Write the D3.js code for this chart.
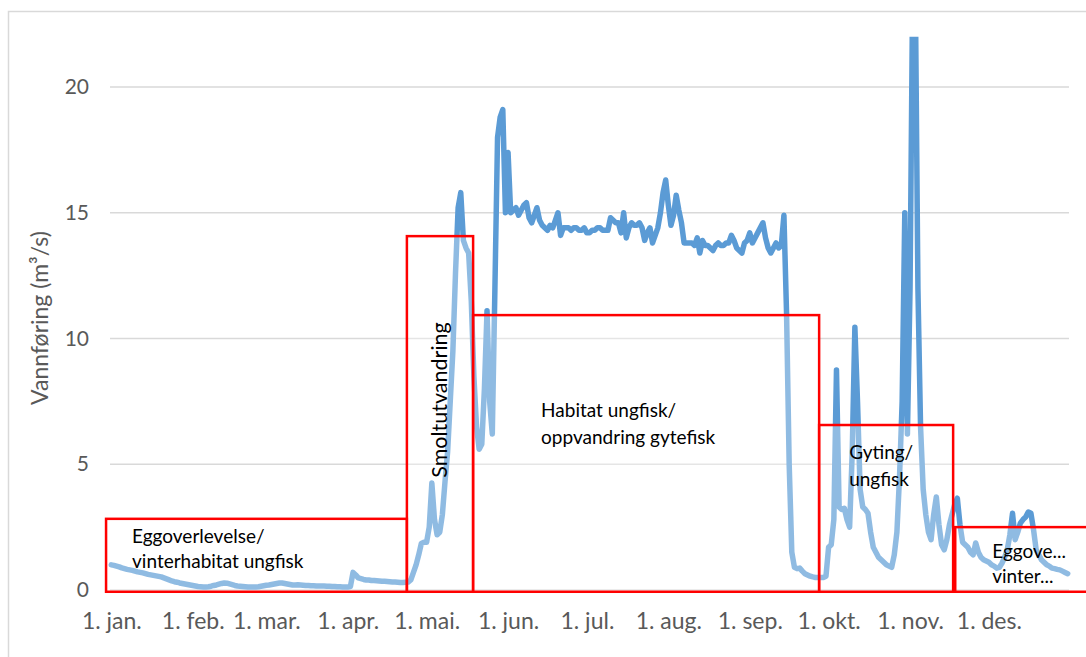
<!DOCTYPE html>
<html>
<head>
<meta charset="utf-8">
<script src="https://cdn.jsdelivr.net/npm/d3@7"></script>
<style>
  body { margin: 0; background: #fff; }
  text { font-family: Lato, "Open Sans", sans-serif; }
</style>
</head>
<body>
<div id="chart"></div>
<script>
// daily discharge (m3/s), one array per month
var jan = [1.0, 0.98, 0.95, 0.92, 0.88, 0.85, 0.82, 0.8, 0.78, 0.75, 0.72, 0.7, 0.68, 0.65, 0.62, 0.6, 0.58, 0.56, 0.54, 0.52, 0.48, 0.44, 0.4, 0.36, 0.33, 0.31, 0.28, 0.26, 0.24, 0.22, 0.2];
var feb = [0.18, 0.16, 0.14, 0.13, 0.12, 0.12, 0.13, 0.15, 0.18, 0.2, 0.23, 0.26, 0.28, 0.27, 0.24, 0.21, 0.18, 0.16, 0.15, 0.14, 0.13, 0.12, 0.12, 0.12, 0.12, 0.13, 0.15, 0.17];
var mar = [0.19, 0.2, 0.22, 0.24, 0.26, 0.28, 0.28, 0.26, 0.24, 0.22, 0.2, 0.2, 0.21, 0.2, 0.19, 0.18, 0.18, 0.17, 0.17, 0.16, 0.16, 0.16, 0.16, 0.15, 0.15, 0.14, 0.14, 0.13, 0.13, 0.12, 0.12];
var apr = [0.12, 0.14, 0.7, 0.6, 0.48, 0.45, 0.42, 0.4, 0.4, 0.38, 0.38, 0.37, 0.36, 0.35, 0.35, 0.34, 0.33, 0.32, 0.32, 0.31, 0.3, 0.3, 0.31, 0.32, 0.4, 0.7, 1.0, 1.4, 1.85, 1.9];
var mai = [1.9, 2.5, 4.25, 2.8, 2.2, 2.3, 3.0, 4.3, 5.5, 7.5, 9.5, 12.6, 15.2, 15.8, 13.9, 13.6, 13.4, 11.5, 8.5, 6.5, 5.6, 5.8, 8.0, 11.1, 7.5, 6.2, 12.0, 18.0, 18.8, 19.1, 15.0];
var jun = [17.4, 15.0, 15.1, 15.2, 14.9, 15.1, 15.3, 15.4, 14.8, 14.6, 14.9, 15.2, 14.7, 14.5, 14.4, 14.3, 14.5, 14.4, 14.7, 15.0, 14.1, 14.4, 14.4, 14.4, 14.3, 14.4, 14.4, 14.3, 14.3, 14.4];
var jul = [14.2, 14.2, 14.3, 14.3, 14.4, 14.4, 14.3, 14.3, 14.3, 14.8, 14.7, 14.6, 14.6, 14.2, 15.0, 14.0, 14.4, 14.6, 14.5, 14.5, 14.6, 14.4, 13.9, 14.2, 14.4, 13.8, 14.1, 14.4, 15.0, 15.8, 16.3];
var aug = [15.3, 14.5, 14.9, 15.7, 15.1, 14.6, 13.8, 13.8, 13.8, 13.8, 13.7, 14.0, 13.4, 13.9, 13.7, 13.7, 13.6, 13.5, 13.7, 13.8, 13.7, 13.7, 13.8, 13.8, 14.1, 13.9, 13.6, 13.5, 13.4, 13.8, 13.9];
var sep = [14.2, 13.8, 14.0, 14.2, 14.4, 14.6, 14.0, 13.6, 13.4, 13.6, 13.8, 13.6, 13.7, 14.9, 11.0, 5.0, 1.5, 0.9, 0.85, 0.87, 0.75, 0.65, 0.6, 0.55, 0.52, 0.5, 0.5, 0.5, 0.5, 0.55];
var okt = [1.7, 1.8, 2.8, 8.75, 3.3, 3.2, 3.25, 2.8, 2.5, 5.5, 10.45, 7.5, 4.0, 3.3, 3.2, 3.05, 2.3, 1.7, 1.5, 1.3, 1.2, 1.1, 1.0, 0.95, 0.9, 1.4, 2.3, 4.5, 7.5, 15.0, 6.2];
var nov = [12.0, 24.0, 24.0, 12.0, 6.5, 4.0, 3.0, 2.3, 2.0, 3.0, 3.7, 2.6, 1.8, 1.6, 2.0, 2.6, 3.0, 3.4, 3.65, 2.6, 1.9, 1.8, 1.7, 1.5, 1.4, 1.87, 1.5, 1.3, 1.2, 1.15];
var des = [1.1, 1.0, 0.95, 0.87, 0.9, 1.07, 1.3, 1.6, 2.2, 3.05, 2.0, 2.3, 2.66, 2.8, 2.9, 3.1, 3.05, 2.4, 1.6, 1.4, 1.2, 1.1, 1.0, 0.95, 0.87, 0.85, 0.82, 0.8, 0.75, 0.7, 0.65];

var monthLabels = ["1. jan.", "1. feb.", "1. mar.", "1. apr.", "1. mai.", "1. jun.", "1. jul.", "1. aug.", "1. sep.", "1. okt.", "1. nov.", "1. des."];
var yTicks = [0, 5, 10, 15, 20];

// life-stage periods: [first day, last day, top value]
var periodStart = [-2, 112.5, 137.7, 269.4, 321.2];
var periodEnd = [112.5, 137.7, 269.4, 320.4, 375];
var periodTop = [2.83, 14.07, 10.93, 6.56, 2.5];
var periodText = [
  ["Eggoverlevelse/", "vinterhabitat ungfisk"],
  ["Smoltutvandring"],
  ["Habitat ungfisk/", "oppvandring gytefisk"],
  ["Gyting/", "ungfisk"],
  ["Eggove...", "vinter..."]
];

var months = [jan, feb, mar, apr, mai, jun, jul, aug, sep, okt, nov, des];
var flow = [].concat.apply([], months);
var monthStart = [];
var acc = 0;
months.forEach(function (m) { monthStart.push(acc); acc += m.length; });

var w = 1086, h = 657;
var svg = d3.select("#chart").append("svg").attr("width", w).attr("height", h);

var x = d3.scaleLinear().domain([-0.5, flow.length - 0.5]).range([110, 1069]);
var y = d3.scaleLinear().domain([0, 22]).range([590, 36.7]);

// chart border
svg.append("rect")
  .attr("x", 8.5).attr("y", 11.5).attr("width", 1200).attr("height", 800)
  .attr("fill", "none").attr("stroke", "#d9d9d9").attr("stroke-width", 1.5);

// grid
svg.selectAll(".grid")
  .data(yTicks)
  .enter()
  .append("line")
  .attr("class", "grid")
  .attr("x1", x.range()[0]).attr("x2", x.range()[1])
  .attr("y1", function (d) { return y(d); })
  .attr("y2", function (d) { return y(d); })
  .attr("stroke", "#d9d9d9").attr("stroke-width", 1.5);

// y axis
var yAxis = svg.append("g")
  .attr("transform", "translate(" + (x.range()[0] - 21) + ",0)")
  .call(d3.axisLeft(y).tickValues(yTicks).tickSize(0).tickPadding(0));
yAxis.select(".domain").remove();
yAxis.selectAll("text")
  .attr("font-family", "Lato, sans-serif")
  .attr("font-size", "21px")
  .attr("fill", "#595959");

// x axis
var xAxis = svg.append("g")
  .attr("transform", "translate(0," + 613 + ")")
  .call(d3.axisBottom(x).tickValues(monthStart).tickSize(0).tickPadding(0)
    .tickFormat(function (d, i) { return monthLabels[i]; }));
xAxis.select(".domain").remove();
xAxis.selectAll("text")
  .attr("font-family", "Lato, sans-serif")
  .attr("font-size", "23px")
  .attr("fill", "#595959");

// axis title
svg.append("text")
  .attr("transform", "translate(48,318) rotate(-90)")
  .attr("text-anchor", "middle")
  .attr("font-size", "23px")
  .attr("fill", "#595959")
  .text("Vannføring (m³/s)");

// clip for the line
svg.append("clipPath").attr("id", "plot")
  .append("rect")
  .attr("x", 0).attr("y", y(22)).attr("width", w).attr("height", h);

var line = d3.line()
  .x(function (d, i) { return x(i); })
  .y(function (d) { return y(d); });

svg.append("path")
  .datum(flow)
  .attr("clip-path", "url(#plot)")
  .attr("d", line)
  .attr("fill", "none")
  .attr("stroke", "#5b9bd5")
  .attr("stroke-width", 5.5)
  .attr("stroke-linejoin", "round")
  .attr("stroke-linecap", "round");

// period boxes, white wash over the line
var boxes = svg.selectAll(".box")
  .data(periodText)
  .enter()
  .append("g")
  .attr("class", "box");

boxes.append("rect")
  .attr("x", function (d, i) { return x(periodStart[i]); })
  .attr("y", function (d, i) { return y(periodTop[i]); })
  .attr("width", function (d, i) { return x(periodEnd[i]) - x(periodStart[i]); })
  .attr("height", function (d, i) { return y(-0.07) - y(periodTop[i]); })
  .attr("fill", "#fff")
  .attr("fill-opacity", 0.32)
  .attr("stroke", "#ff0000")
  .attr("stroke-width", 2.5);

// text offsets inside each box (px from top-left)
var textDx = [26, 0, 68, 30, 37];
var textDy = [24, 0, 102, 34, 31];
var lineGap = [25, 0, 27, 27, 25];

boxes.each(function (d, i) {
  var g = d3.select(this);
  var bx = x(periodStart[i]), by = y(periodTop[i]);
  if (d.length === 1) {
    var cx = (bx + x(periodEnd[i])) / 2 + 7;
    g.append("text")
      .attr("transform", "translate(" + cx + ",400) rotate(-90)")
      .attr("text-anchor", "middle")
      .attr("font-size", "21.5px")
      .attr("fill", "#000")
      .text(d[0]);
  } else {
    g.selectAll("text")
      .data(d)
      .enter()
      .append("text")
      .attr("x", bx + textDx[i])
      .attr("y", function (t, j) { return by + textDy[i] + j * lineGap[i]; })
      .attr("font-size", "19px")
      .attr("fill", "#000")
      .text(function (t) { return t; });
  }
});
</script>
</body>
</html>
